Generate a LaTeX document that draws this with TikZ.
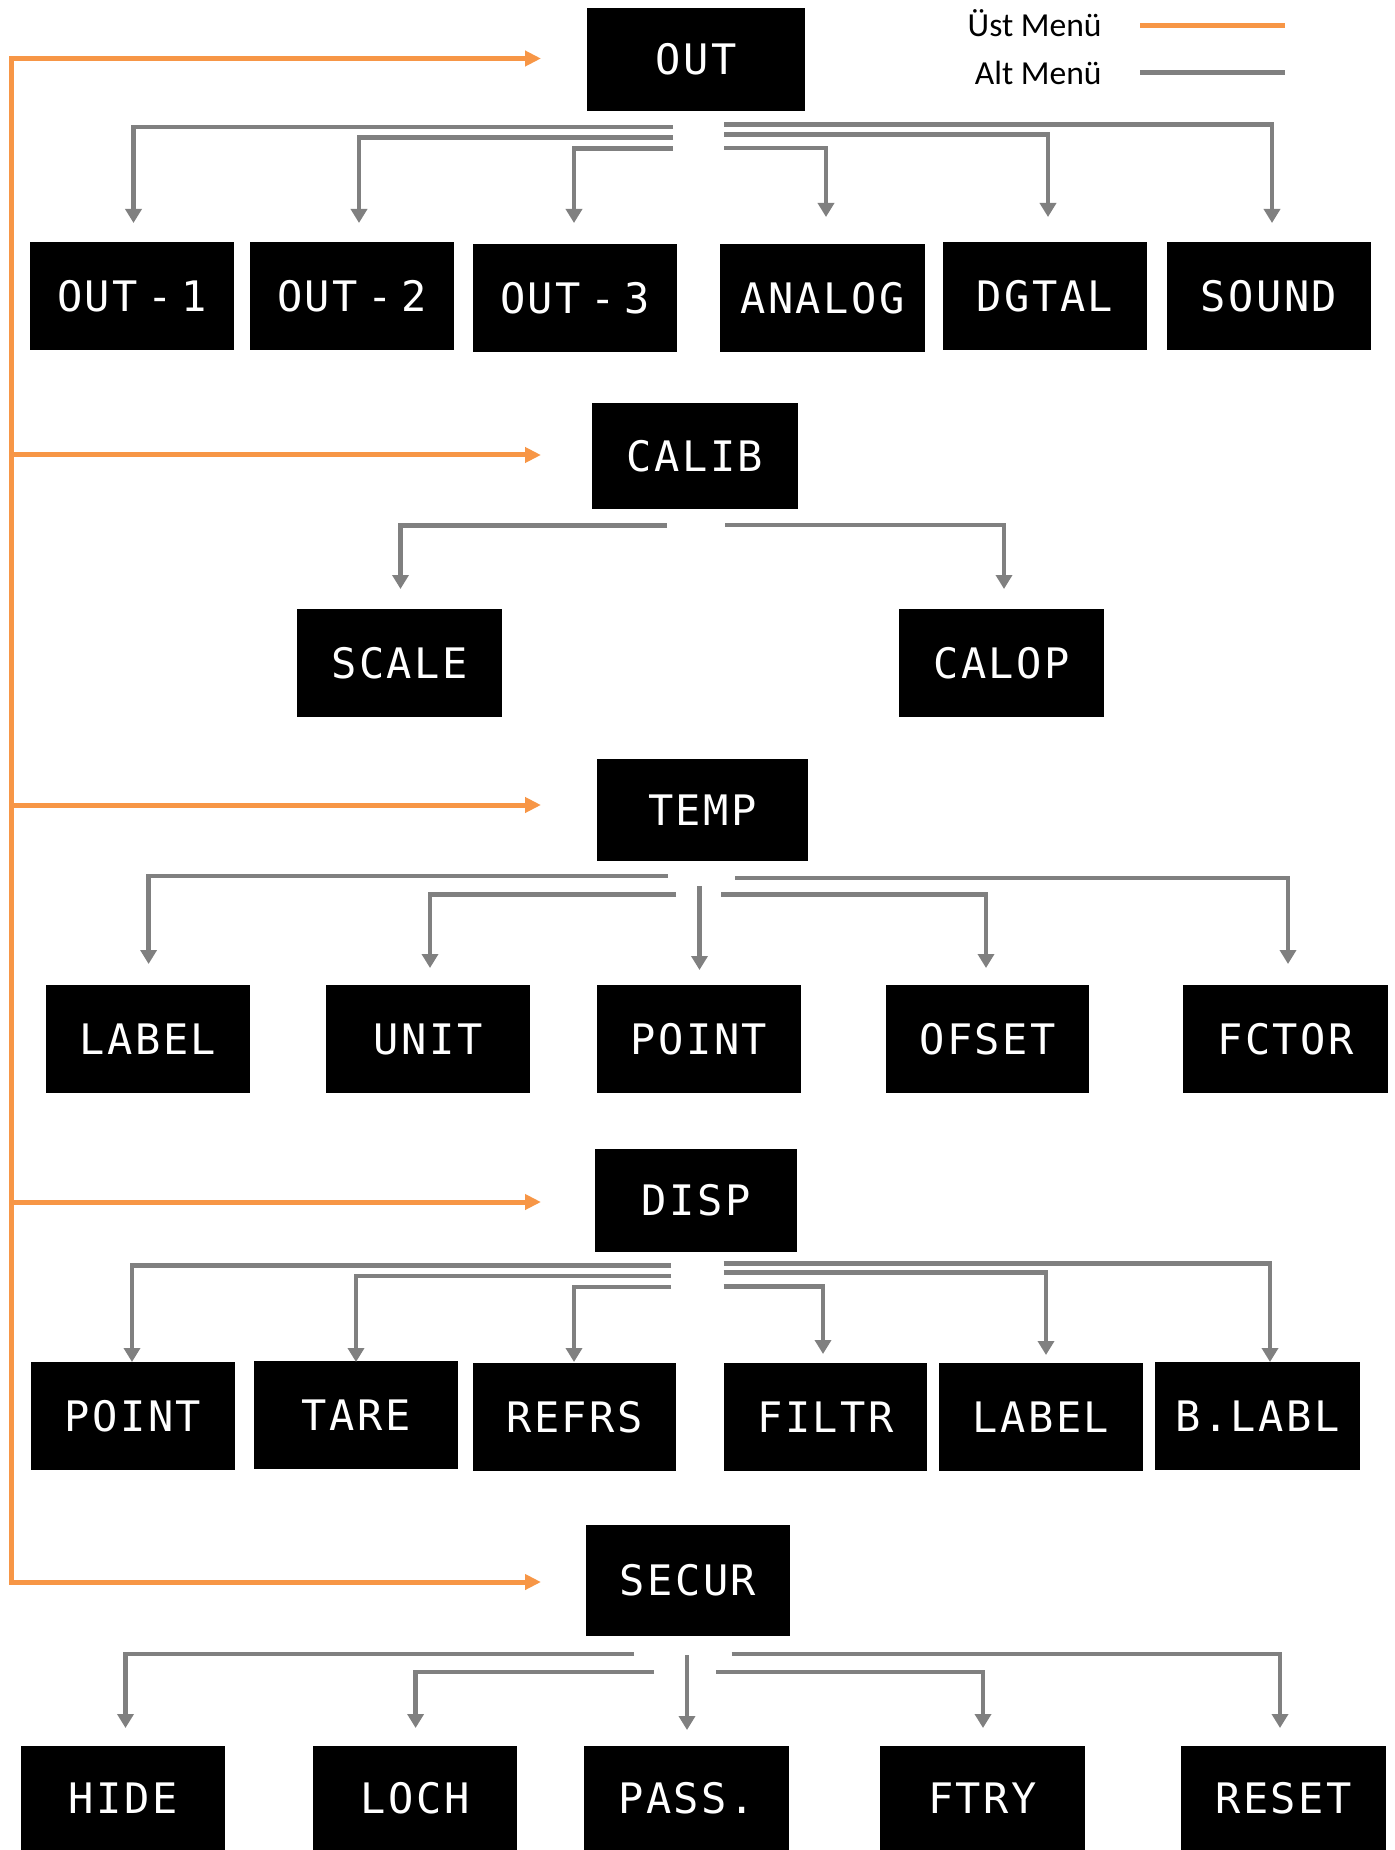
\documentclass[tikz,border=0pt]{standalone}
\usepackage{fontspec}
\setmainfont{Carlito}
\newfontfamily\lcdfont{DejaVu Sans Mono}[LetterSpace=6]
\usetikzlibrary{arrows.meta}
\definecolor{menuorange}{HTML}{F79646}
\definecolor{menugray}{HTML}{808080}
\tikzset{
  lcdbox/.style={fill=black, inner sep=0pt, text=white, anchor=center,
    font=\lcdfont\fontsize{21pt}{24pt}\selectfont},
  legendtext/.style={anchor=base east, inner sep=0pt,
    font=\fontsize{16.8pt}{20pt}\selectfont},
  topline/.style={menuorange, line width=2.5pt},
  toparrow/.style={topline, -{Triangle[length=8pt,width=7.5pt]}},
  subline/.style={menugray, line width=2.4pt},
  subarrow/.style={subline, line join=miter, -{Triangle[length=7pt,width=8pt]}},
}
\newcommand{\nsp}{\hspace{0.22em}}
% display box given by its corners (in picture units)
\newcommand{\lcdnode}[6]{%
  \pgfmathsetmacro\bxc{(#2+#4)/2}%
  \pgfmathsetmacro\byc{(#3+#5)/2}%
  \pgfmathsetmacro\bxw{(#4-#2)*0.5}%
  \pgfmathsetmacro\byh{(#5-#3)*0.5}%
  \node[lcdbox, minimum width=\bxw pt, minimum height=\byh pt] (#1) at (\bxc,\byc) {#6};}
\begin{document}
\begin{tikzpicture}[x=0.5pt,y=-0.5pt]
\useasboundingbox (0,0) rectangle (1395,1850);

% ---------- legend ----------
\node[legendtext] (lg-top) at (1102,37) {Üst Menü};
\node[legendtext] (lg-sub) at (1102,85) {Alt Menü};
\coordinate (lt-a) at (1140,26); \coordinate (lt-b) at (1285,26);
\coordinate (ls-a) at (1140,73); \coordinate (ls-b) at (1285,73);
\draw[topline] (lt-a) -- (lt-b);
\draw[subline, line width=2.5pt] (ls-a) -- (ls-b);

% ---------- main menu entries ----------
\lcdnode{out}{587}{8}{805}{111}{OUT}
\lcdnode{calib}{592}{403}{798}{509}{CALIB}
\lcdnode{temp}{597}{759}{808}{861}{TEMP}
\lcdnode{disp}{595}{1149}{797}{1252}{DISP}
\lcdnode{secur}{586}{1525}{790}{1636}{SECUR}

% ---------- OUT sub menu ----------
\lcdnode{o1}{30}{242}{234}{350}{OUT\nsp-\nsp1}
\lcdnode{o2}{250}{242}{454}{350}{OUT\nsp-\nsp2}
\lcdnode{o3}{473}{244}{677}{352}{OUT\nsp-\nsp3}
\lcdnode{analog}{720}{244}{925}{352}{ANALOG}
\lcdnode{dgtal}{943}{242}{1147}{350}{DGTAL}
\lcdnode{sound}{1167}{242}{1371}{350}{SOUND}

% ---------- CALIB sub menu ----------
\lcdnode{scale}{297}{609}{502}{717}{SCALE}
\lcdnode{calop}{899}{609}{1104}{717}{CALOP}

% ---------- TEMP sub menu ----------
\lcdnode{tlabel}{46}{985}{250}{1093}{LABEL}
\lcdnode{unit}{326}{985}{530}{1093}{UNIT}
\lcdnode{tpoint}{597}{985}{801}{1093}{POINT}
\lcdnode{ofset}{886}{985}{1089}{1093}{OFSET}
\lcdnode{fctor}{1183}{985}{1388}{1093}{FCTOR}

% ---------- DISP sub menu ----------
\lcdnode{dpoint}{31}{1362}{235}{1470}{POINT}
\lcdnode{tare}{254}{1361}{458}{1469}{TARE}
\lcdnode{refrs}{473}{1363}{676}{1471}{REFRS}
\lcdnode{filtr}{724}{1363}{927}{1471}{FILTR}
\lcdnode{dlabel}{939}{1363}{1143}{1471}{LABEL}
\lcdnode{blabl}{1155}{1362}{1360}{1470}{B.LABL}

% ---------- SECUR sub menu ----------
\lcdnode{hide}{21}{1746}{225}{1850}{HIDE}
\lcdnode{loch}{313}{1746}{517}{1850}{LOCH}
\lcdnode{pass}{584}{1746}{789}{1850}{PASS.}
\lcdnode{ftry}{880}{1746}{1085}{1850}{FTRY}
\lcdnode{reset}{1181}{1746}{1386}{1850}{RESET}

% ---------- main menu chain (orange) ----------
\coordinate (m1) at (11.5,58.5);  \coordinate (a1) at (541,58.5);
\coordinate (m2) at (11.5,455);   \coordinate (a2) at (541,455);
\coordinate (m3) at (11.5,805);   \coordinate (a3) at (541,805);
\coordinate (m4) at (11.5,1202);  \coordinate (a4) at (541,1202);
\coordinate (m5) at (11.5,1582);  \coordinate (a5) at (541,1582);
\draw[topline, line cap=rect] (m1) -- (m5);
\foreach \i in {1,...,5} \draw[toparrow] (m\i) -- (a\i);

% ---------- OUT branches ----------
\coordinate (s-o1) at (673,127);      \coordinate (e-o1) at (133.5,223);
\coordinate (s-o2) at (673,137.5);    \coordinate (e-o2) at (359,223);
\coordinate (s-o3) at (673,148.5);    \coordinate (e-o3) at (574,223);
\coordinate (s-analog) at (724,148);  \coordinate (e-analog) at (826,217);
\coordinate (s-dgtal) at (724,134.5); \coordinate (e-dgtal) at (1048,217);
\coordinate (s-sound) at (724,124.5); \coordinate (e-sound) at (1272,223);
\foreach \n in {o1,o2,o3,analog,dgtal,sound}
  \draw[subarrow] (s-\n) -| (e-\n);

% ---------- CALIB branches ----------
\coordinate (s-scale) at (667,525.5); \coordinate (e-scale) at (400.5,589);
\coordinate (s-calop) at (725,525);   \coordinate (e-calop) at (1004,589);
\foreach \n in {scale,calop}
  \draw[subarrow] (s-\n) -| (e-\n);

% ---------- TEMP branches ----------
\coordinate (s-tlabel) at (667.5,876); \coordinate (e-tlabel) at (148.6,964);
\coordinate (s-unit) at (676,894.5);   \coordinate (e-unit) at (430,968);
\coordinate (s-ofset) at (721,894.5);  \coordinate (e-ofset) at (986,968);
\coordinate (s-fctor) at (735,878);    \coordinate (e-fctor) at (1288,964);
\foreach \n in {tlabel,unit,ofset,fctor}
  \draw[subarrow] (s-\n) -| (e-\n);
\coordinate (s-tpoint) at (699.5,886); \coordinate (e-tpoint) at (699.5,970);
\draw[subarrow] (s-tpoint) -- (e-tpoint);

% ---------- DISP branches ----------
\coordinate (s-dpoint) at (671,1265.5);   \coordinate (e-dpoint) at (132,1362);
\coordinate (s-tare) at (671,1276);       \coordinate (e-tare) at (356,1362);
\coordinate (s-refrs) at (671,1287);      \coordinate (e-refrs) at (574,1362);
\coordinate (s-filtr) at (723.6,1286.5);  \coordinate (e-filtr) at (823,1354);
\coordinate (s-dlabel) at (723.6,1272.5); \coordinate (e-dlabel) at (1046,1355);
\coordinate (s-blabl) at (723.6,1263.5);  \coordinate (e-blabl) at (1270,1362);
\foreach \n in {dpoint,tare,refrs,filtr,dlabel,blabl}
  \draw[subarrow] (s-\n) -| (e-\n);

% ---------- SECUR branches ----------
\coordinate (s-hide) at (634,1654);    \coordinate (e-hide) at (125.5,1728);
\coordinate (s-loch) at (654,1672);    \coordinate (e-loch) at (415.6,1728);
\coordinate (s-ftry) at (716,1672);    \coordinate (e-ftry) at (983,1728);
\coordinate (s-reset) at (731.6,1654); \coordinate (e-reset) at (1280,1728);
\foreach \n in {hide,loch,ftry,reset}
  \draw[subarrow] (s-\n) -| (e-\n);
\coordinate (s-pass) at (687,1655);    \coordinate (e-pass) at (687,1730);
\draw[subarrow] (s-pass) -- (e-pass);
\end{tikzpicture}
\end{document}
